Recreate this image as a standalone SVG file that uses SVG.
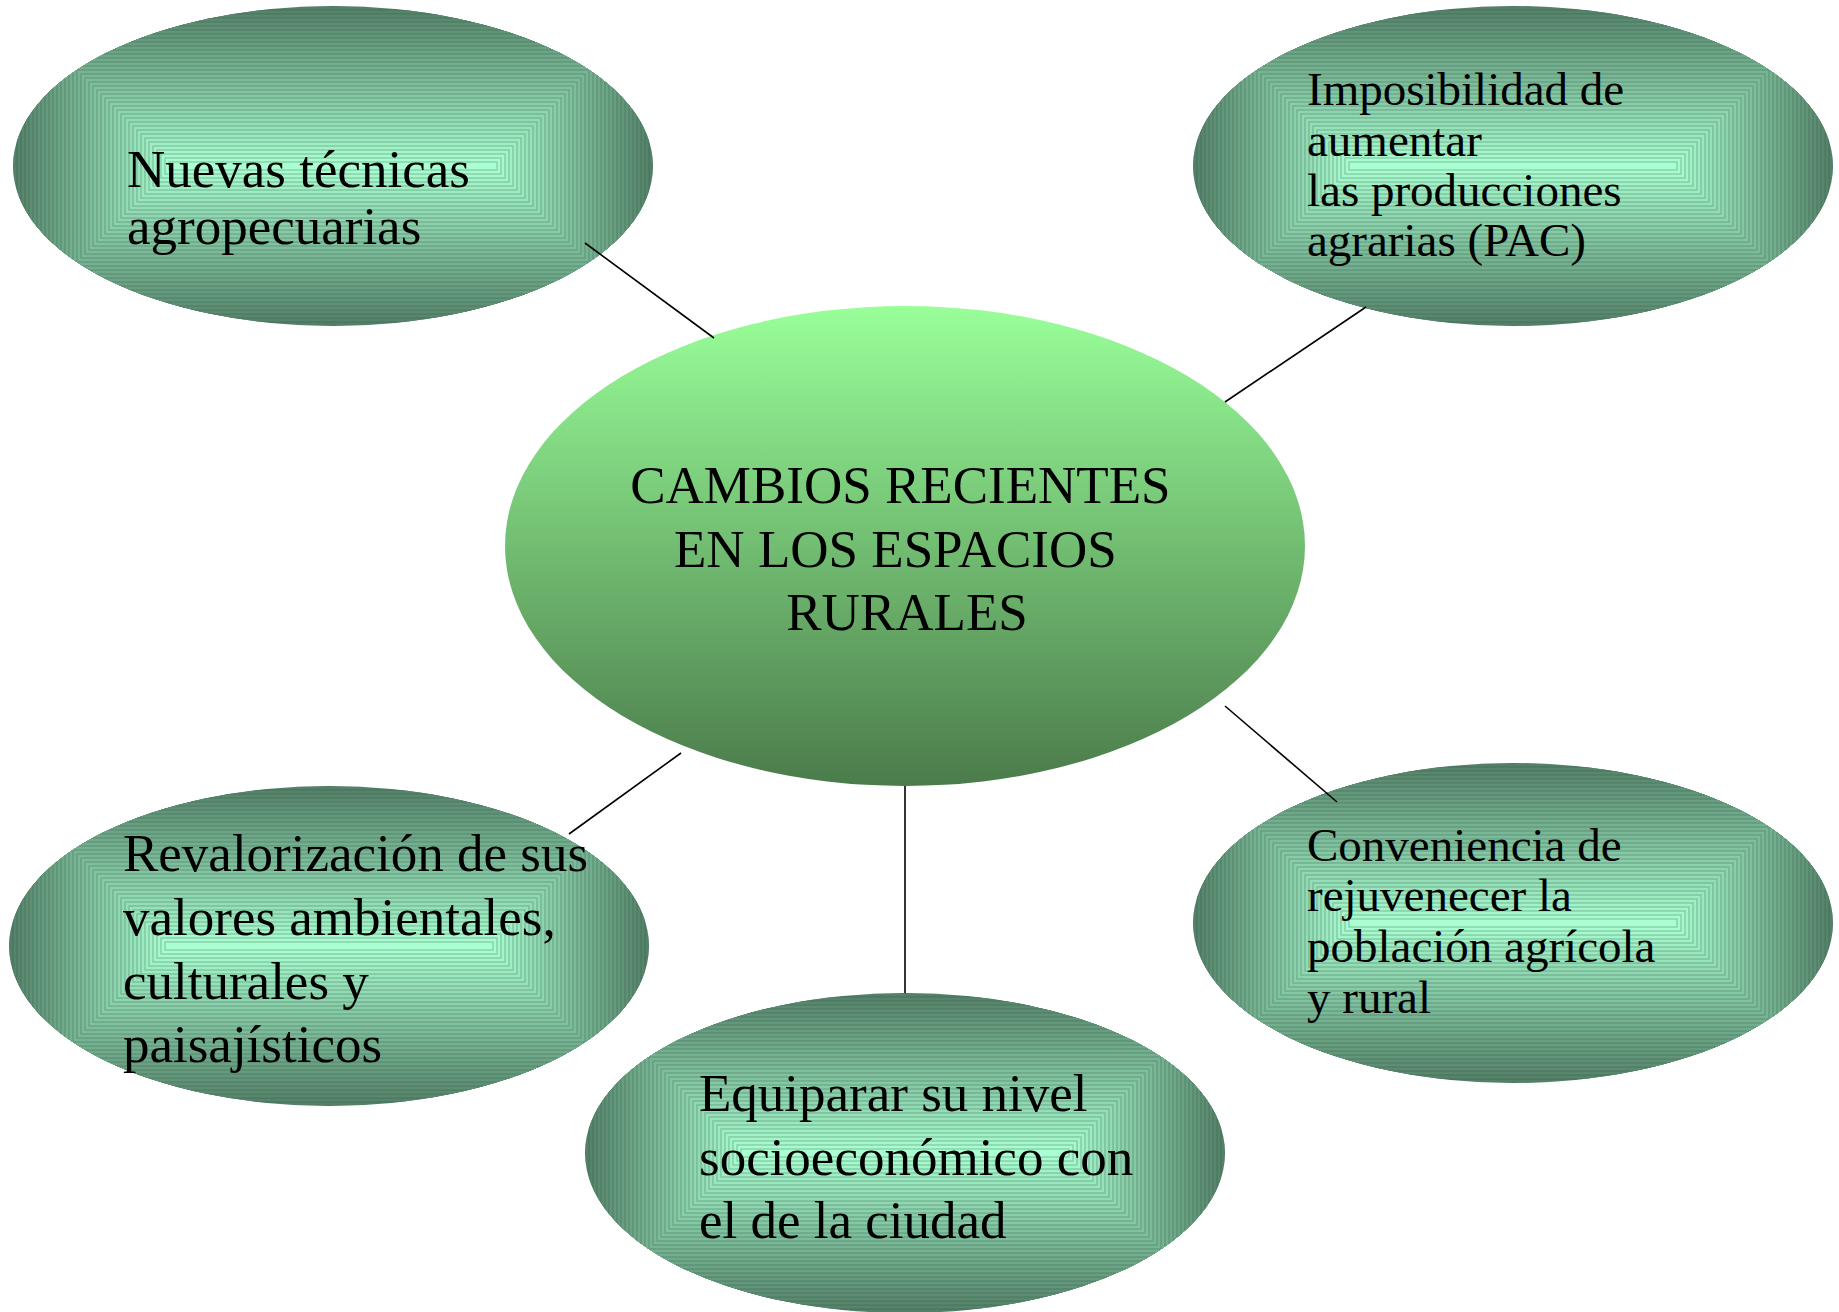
<svg xmlns="http://www.w3.org/2000/svg" xmlns:xlink="http://www.w3.org/1999/xlink" width="1839" height="1312" viewBox="0 0 1839 1312">
<defs>
<style>
.t{font-family:"Liberation Serif","Times New Roman",serif;fill:#000}
.s53{font-size:53px}
.s47{font-size:47px}
.conn line{stroke:#000;stroke-width:1.6}
</style>
<clipPath id="ec"><ellipse cx="0" cy="0" rx="320" ry="160"/></clipPath>
<linearGradient id="cg" x1="0" y1="0" x2="0" y2="1">
<stop offset="0" stop-color="#99ff99"/>
<stop offset="1" stop-color="#4b7b4b"/>
</linearGradient>
<g id="bubble" clip-path="url(#ec)" stroke="#2f5a44" stroke-opacity="0.32" stroke-width="1.2">
<rect x="-320" y="-160" width="640" height="320" fill="#548068"/>
<rect x="-316" y="-156" width="632" height="312" fill="#56836b"/>
<rect x="-312" y="-152" width="624" height="304" fill="#58876d"/>
<rect x="-308" y="-148" width="616" height="296" fill="#5b8a70"/>
<rect x="-304" y="-144" width="608" height="288" fill="#5d8d73"/>
<rect x="-300" y="-140" width="600" height="280" fill="#5f9076"/>
<rect x="-296" y="-136" width="592" height="272" fill="#619478"/>
<rect x="-292" y="-132" width="584" height="264" fill="#63977b"/>
<rect x="-288" y="-128" width="576" height="256" fill="#669a7e"/>
<rect x="-284" y="-124" width="568" height="248" fill="#689d80"/>
<rect x="-280" y="-120" width="560" height="240" fill="#6aa183"/>
<rect x="-276" y="-116" width="552" height="232" fill="#6ca486"/>
<rect x="-272" y="-112" width="544" height="224" fill="#6ea789"/>
<rect x="-268" y="-108" width="536" height="216" fill="#71aa8b"/>
<rect x="-264" y="-104" width="528" height="208" fill="#73ae8e"/>
<rect x="-260" y="-100" width="520" height="200" fill="#75b191"/>
<rect x="-256" y="-96" width="512" height="192" fill="#77b493"/>
<rect x="-252" y="-92" width="504" height="184" fill="#7ab796"/>
<rect x="-248" y="-88" width="496" height="176" fill="#7cbb99"/>
<rect x="-244" y="-84" width="488" height="168" fill="#7ebe9c"/>
<rect x="-240" y="-80" width="480" height="160" fill="#80c19e"/>
<rect x="-236" y="-76" width="472" height="152" fill="#82c4a1"/>
<rect x="-232" y="-72" width="464" height="144" fill="#85c8a4"/>
<rect x="-228" y="-68" width="456" height="136" fill="#87cba7"/>
<rect x="-224" y="-64" width="448" height="128" fill="#89cea9"/>
<rect x="-220" y="-60" width="440" height="120" fill="#8bd1ac"/>
<rect x="-216" y="-56" width="432" height="112" fill="#8dd5af"/>
<rect x="-212" y="-52" width="424" height="104" fill="#90d8b1"/>
<rect x="-208" y="-48" width="416" height="96" fill="#92dbb4"/>
<rect x="-204" y="-44" width="408" height="88" fill="#94deb7"/>
<rect x="-200" y="-40" width="400" height="80" fill="#96e2ba"/>
<rect x="-196" y="-36" width="392" height="72" fill="#98e5bc"/>
<rect x="-192" y="-32" width="384" height="64" fill="#9be8bf"/>
<rect x="-188" y="-28" width="376" height="56" fill="#9debc2"/>
<rect x="-184" y="-24" width="368" height="48" fill="#9fefc4"/>
<rect x="-180" y="-20" width="360" height="40" fill="#a1f2c7"/>
<rect x="-176" y="-16" width="352" height="32" fill="#a3f5ca"/>
<rect x="-172" y="-12" width="344" height="24" fill="#a6f9cd"/>
<rect x="-168" y="-8" width="336" height="16" fill="#a8fccf"/>
<rect x="-164" y="-4" width="328" height="8" fill="#aaffd2"/>
</g>
</defs>
<rect width="1839" height="1312" fill="#ffffff"/>

<g id="node-centro">
<ellipse cx="905" cy="546" rx="400" ry="240" fill="url(#cg)"/>
<text class="t s53" text-anchor="middle">
<tspan x="907" y="503">CAMBIOS RECIENTES</tspan>
<tspan x="902" y="567">EN LOS ESPACIOS</tspan>
<tspan x="907" y="630">RURALES</tspan>
</text>
</g>

<g id="node-tecnicas">
<use xlink:href="#bubble" href="#bubble" transform="translate(333,166)"/>
<text class="t s53">
<tspan x="127" y="187">Nuevas técnicas</tspan>
<tspan x="127" y="244">agropecuarias</tspan>
</text>
</g>

<g id="node-pac">
<use xlink:href="#bubble" href="#bubble" transform="translate(1513,166)"/>
<text class="t s47">
<tspan x="1307" y="105">Imposibilidad de</tspan>
<tspan x="1307" y="156">aumentar</tspan>
<tspan x="1307" y="206">las producciones</tspan>
<tspan x="1307" y="256">agrarias (PAC)</tspan>
</text>
</g>

<g id="node-revalorizacion">
<use xlink:href="#bubble" href="#bubble" transform="translate(329,946)"/>
<text class="t s53">
<tspan x="123" y="871">Revalorización de sus</tspan>
<tspan x="123" y="935">valores ambientales,</tspan>
<tspan x="123" y="999">culturales y</tspan>
<tspan x="123" y="1062">paisajísticos</tspan>
</text>
</g>

<g id="node-rejuvenecer">
<use xlink:href="#bubble" href="#bubble" transform="translate(1513,923)"/>
<text class="t s47">
<tspan x="1307" y="861">Conveniencia de</tspan>
<tspan x="1307" y="911">rejuvenecer la</tspan>
<tspan x="1307" y="962">población agrícola</tspan>
<tspan x="1307" y="1013">y rural</tspan>
</text>
</g>

<g id="node-equiparar">
<use xlink:href="#bubble" href="#bubble" transform="translate(905,1153)"/>
<text class="t s53">
<tspan x="699" y="1111">Equiparar su nivel</tspan>
<tspan x="699" y="1175">socioeconómico con</tspan>
<tspan x="699" y="1238">el de la ciudad</tspan>
</text>
</g>

<g id="connectors" class="conn">
<line x1="585" y1="243" x2="714" y2="338"/>
<line x1="1366" y1="307" x2="1225" y2="402"/>
<line x1="1225" y1="706" x2="1337" y2="802"/>
<line x1="681" y1="753" x2="569" y2="834"/>
<line x1="905" y1="786" x2="905" y2="993"/>
</g>
</svg>
